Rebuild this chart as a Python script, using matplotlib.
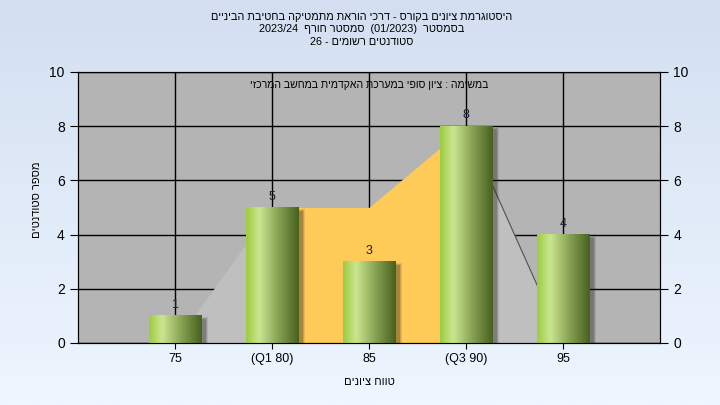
import re
import numpy as np
from matplotlib import pyplot as plt
from matplotlib.colors import LinearSegmentedColormap
from matplotlib.patches import Rectangle

plt.rcParams['font.family'] = ['Liberation Sans', 'DejaVu Sans']

# data
categories = ['75', '(Q1 80)', '85', '(Q3 90)', '95']
counts = [1, 5, 3, 8, 4]
outer_area = [0, 5, 5, 8, 0]      # light grey area over the whole range
iqr_idx = [1, 2, 3]               # Q1 .. Q3 section
iqr_area = [5, 5, 8]

title_lines = ['היסטוגרמת ציונים בקורס - דרכי הוראת מתמטיקה בחטיבת הביניים',
               'בסמסטר  (01/2023)  סמסטר חורף  2023/24',
               'סטודנטים רשומים - 26']
task_text = 'במשימה : ציון סופי במערכת האקדמית במחשב המרכזי'
xlabel = 'טווח ציונים'
ylabel = 'מספר סטודנטים'


def rtl(s):
    # crude bidi: reverse, keep number/latin runs in order, mirror brackets
    r = s[::-1]
    r = re.sub(r'[0-9A-Za-z][0-9A-Za-z/.]*', lambda m: m.group(0)[::-1], r)
    return r.translate(str.maketrans('()', ')('))


fig = plt.figure(figsize=(7.2, 4.05), dpi=100)

# background gradient of the whole figure
bg = fig.add_axes([0, 0, 1, 1], zorder=-10)
bg_cmap = LinearSegmentedColormap.from_list('bg', ['#d3dff1', '#eef6ff'])
bg.imshow(np.linspace(0, 1, 256).reshape(-1, 1), cmap=bg_cmap, aspect='auto',
          extent=[0, 1, 0, 1])
bg.set_axis_off()

ax = fig.add_axes([78/720, 62/405, 582/720, 271/405])
ax.set_facecolor('#b4b4b4')
ax.set_axisbelow(True)
x = np.arange(len(categories))

# areas (they hide the grid lines)
ax.fill_between(x, outer_area, color='#bfbfbf', zorder=1, linewidth=0)
ax.fill_between(iqr_idx, iqr_area, color='#fecb58', zorder=1.1, linewidth=0)
ax.plot(x[3:], outer_area[3:], color='#505050', lw=0.8, zorder=1.2)

# bars with a cylinder-like gradient and a soft shadow
bar_w = 0.54
bar_cmap = LinearSegmentedColormap.from_list(
    'bar', [(0, '#9dcc40'), (0.25, '#cbe690'), (0.6, '#8aa456'), (1, '#47601e')])
grad = np.linspace(0, 1, 256).reshape(1, -1)
for xi, c in zip(x, counts):
    for k, a in enumerate([0.10, 0.15, 0.22]):
        d = 0.012 * (2 - k)
        ax.add_patch(Rectangle((xi - bar_w/2 + 0.05 - d, -0.12 - d*3),
                               bar_w + 2*d, c + 2*d*3, color='#202020',
                               alpha=a, lw=0, zorder=2))
    ax.imshow(grad, cmap=bar_cmap, aspect='auto', zorder=3,
              extent=[xi - bar_w/2, xi + bar_w/2, 0, c])
    ax.text(xi, c + 0.18, str(c), ha='center', va='bottom', fontsize=9,
            color='#1e1e30', zorder=4)

ax.set_xlim(-1, 5)
ax.set_ylim(0, 10)
ax.set_xticks(x)
ax.set_xticklabels(categories, fontsize=9)
ax.set_yticks(range(0, 11, 2))
ax.tick_params(axis='y', labelsize=10, length=6, direction='out')
ax.tick_params(axis='x', length=4, direction='out')
ax.grid(True, color='black', linewidth=1)
for sp in ax.spines.values():
    sp.set_color('black')

ax2 = ax.twinx()
ax2.set_ylim(0, 10)
ax2.set_yticks(range(0, 11, 2))
ax2.tick_params(axis='y', labelsize=10, length=6, direction='out')

ax.text(0.5, 0.952, rtl(task_text), transform=ax.transAxes, ha='center',
        va='center', fontsize=7.6, zorder=5)

ax.set_xlabel(rtl(xlabel), fontsize=8)
ax.xaxis.set_label_coords(0.5, -0.125)
ax.set_ylabel(rtl(ylabel), fontsize=8, rotation=90)
ax.yaxis.set_label_coords(-0.062, 0.53)

for i, line in enumerate(title_lines):
    fig.text(0.502, 1 - (17 + 12.5*i)/405, rtl(line), ha='center',
             va='center', fontsize=7.8)

fig.savefig('out.png', dpi=100)
